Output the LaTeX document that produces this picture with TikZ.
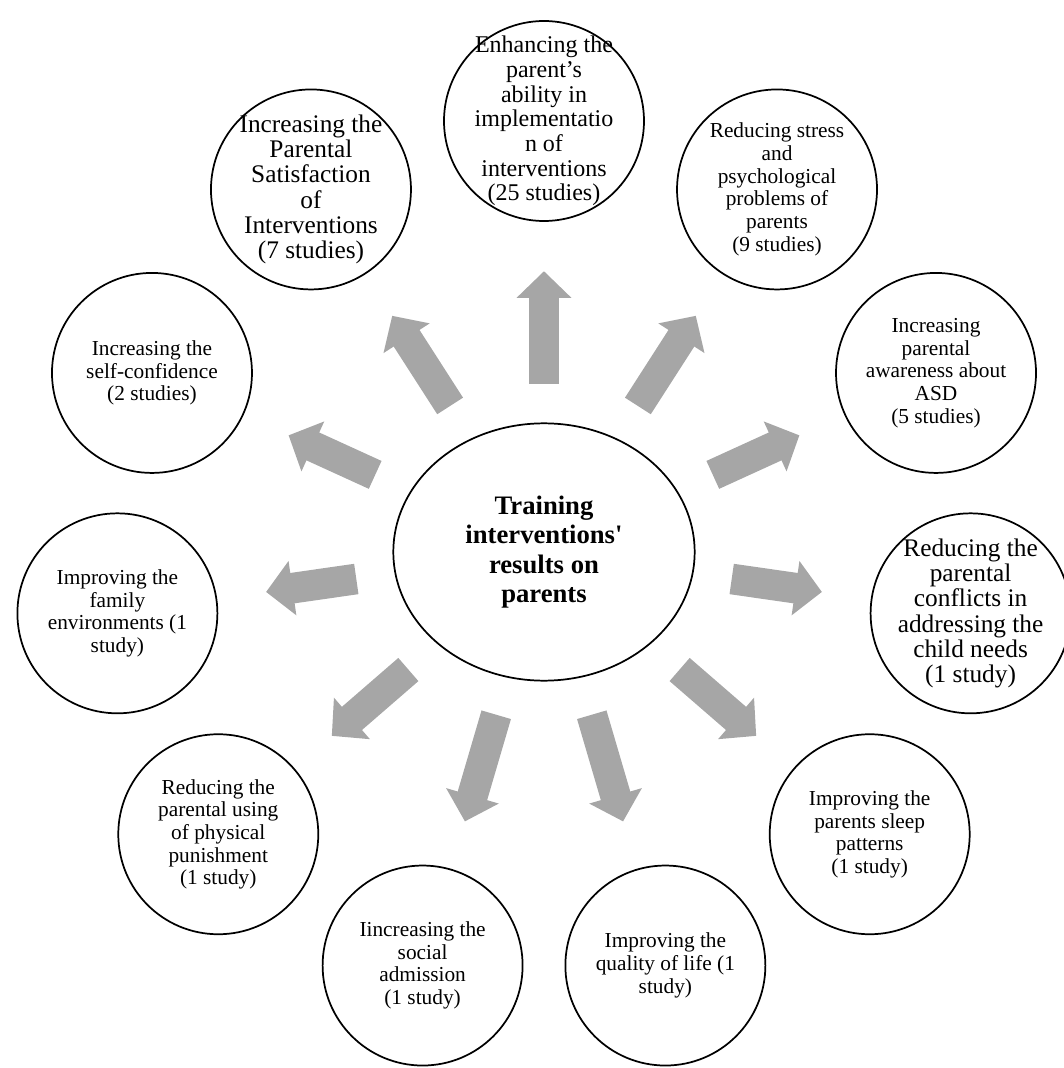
\documentclass[tikz,border=0pt]{standalone}
\usepackage{fontspec}
\setmainfont{Liberation Serif}
\usepackage{tikz}
\usetikzlibrary{positioning,calc,shapes,arrows.meta}
\definecolor{ArrowGrey}{HTML}{A6A6A6}

\tikzset{
  hub/.style={draw, ellipse, line width=1.3pt, minimum width=226pt, minimum height=193pt,
    inner sep=0pt, align=center, font=\bfseries\fontsize{20}{22}\selectfont},
  outcome/.style={draw, circle, line width=1.3pt, minimum size=150pt, inner sep=0pt,
    align=center, font=\fontsize{16}{17}\selectfont},
  bigoutcome/.style={outcome, inner sep=-15pt, font=\fontsize{19}{19}\selectfont},
  fatarrow/.style={draw=ArrowGrey, line width=23pt, line cap=butt,
    -{Triangle[width=40pt,length=20pt]}, shorten <=29pt, shorten >=37pt}
}

\begin{document}
\begin{tikzpicture}[x=0.75pt,y=0.75pt]
        \useasboundingbox (-544,-516) rectangle (520,552);

        % Centre
        \node[hub] (hub) at (0,0) {Training\\interventions\textquotesingle\\results on\\parents};

        % Outcomes, clockwise from the top
        \node[bigoutcome, font=\fontsize{18}{18.5}\selectfont] (ability) at (90:431)
          {Enhancing the\\parent’s\\ability in\\implementatio\\n of\\interventions\\(25 studies)};
        \node[outcome] (stress) at (57.27:431)
          {Reducing stress\\and\\psychological\\problems of\\parents\\(9 studies)};
        \node[outcome] (awareness) at (24.55:431)
          {Increasing\\parental\\awareness about\\ASD\\(5 studies)};
        \node[bigoutcome] (conflicts) at (-8.18:431)
          {Reducing the\\parental\\conflicts in\\addressing the\\child needs\\(1 study)};
        \node[outcome] (sleep) at (-40.91:431)
          {Improving the\\parents sleep\\patterns\\(1 study)};
        \node[outcome] (quality) at (-73.64:431)
          {Improving the\\quality of life (1\\study)};
        \node[outcome] (social) at (-106.36:431)
          {Iincreasing the\\social\\admission\\(1 study)};
        \node[outcome] (punishment) at (-139.09:431)
          {Reducing the\\parental using\\of physical\\punishment\\(1 study)};
        \node[outcome] (family) at (-171.82:431)
          {Improving the\\family\\environments (1\\study)};
        \node[outcome] (confidence) at (155.45:431)
          {Increasing the\\self-confidence\\(2 studies)};
        \node[bigoutcome] (satisfaction) at (122.73:431)
          {Increasing the\\Parental\\Satisfaction\\of\\Interventions\\(7 studies)};

        % Arrows
        \draw[fatarrow] (hub) -- (ability);
        \draw[fatarrow] (hub) -- (stress);
        \draw[fatarrow] (hub) -- (awareness);
        \draw[fatarrow] (hub) -- (conflicts);
        \draw[fatarrow] (hub) -- (sleep);
        \draw[fatarrow] (hub) -- (quality);
        \draw[fatarrow] (hub) -- (social);
        \draw[fatarrow] (hub) -- (punishment);
        \draw[fatarrow] (hub) -- (family);
        \draw[fatarrow] (hub) -- (confidence);
        \draw[fatarrow] (hub) -- (satisfaction);
      \end{tikzpicture}
\end{document}
